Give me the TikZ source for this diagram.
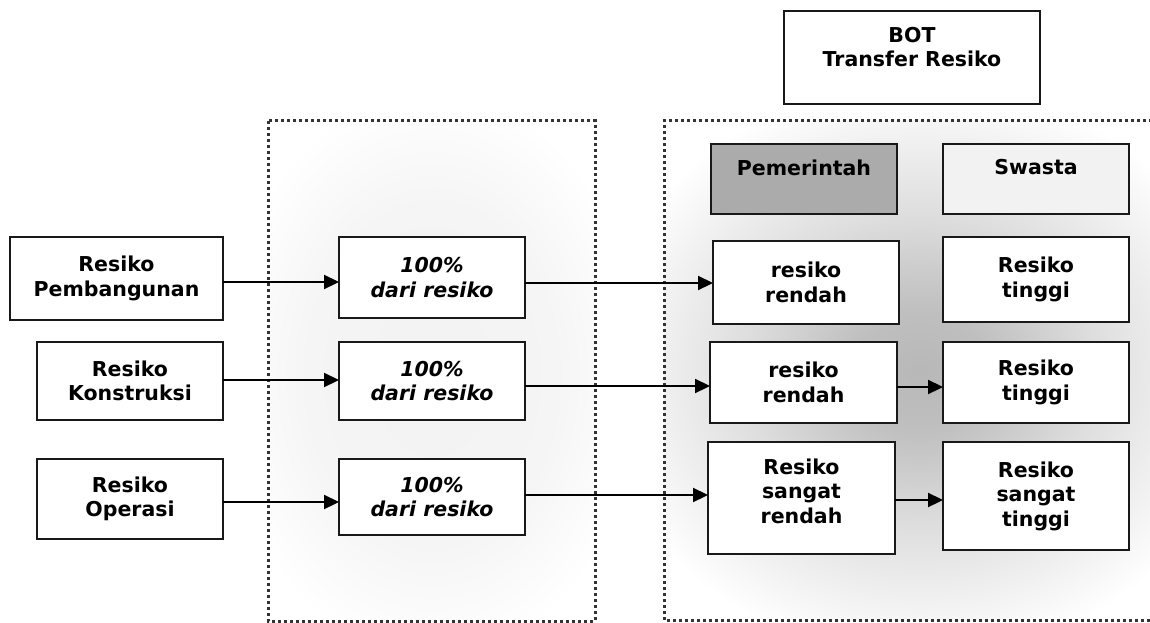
\documentclass[tikz,border=0pt]{standalone}
\usepackage{fontspec}
\setmainfont{DejaVu Sans}
\usetikzlibrary{arrows.meta}
\pgfdeclareradialshading{glowR}{\pgfpointorigin}{color(0bp)=(black!28); color(5bp)=(black!25); color(13bp)=(black!13); color(24bp)=(white); color(50bp)=(white)}
\pgfdeclareradialshading{glowM}{\pgfpointorigin}{color(0bp)=(black!5); color(14bp)=(black!4); color(24bp)=(white); color(50bp)=(white)}
\begin{document}
\begin{tikzpicture}[x=1pt,y=-1pt,
  box/.style={draw=black!90, line width=2pt, fill=white, inner sep=0pt, outer sep=0pt, align=center,
    font=\fontsize{20.5}{24.5}\selectfont\bfseries},
  ibox/.style={box, font=\fontsize{20.5}{24.5}\selectfont\bfseries\itshape},
  lbl/.style={inner sep=0pt, align=center, font=\fontsize{20.5}{24.5}\selectfont\bfseries},
  arr/.style={line width=2.2pt, -{Triangle[length=15pt,width=14pt]}},
  dotbox/.style={draw=black!80, line width=3pt, dash pattern=on 3pt off 3pt}]
\useasboundingbox (0,0) rectangle (1150,623);
% soft glows
\begin{scope}
  \clip (664,121) rectangle (1150,620);
  \shade[shading=glowR] (920,370) ellipse (340 and 300);
\end{scope}
\begin{scope}
  \clip (268,121) rectangle (595,621);
  \shade[shading=glowM] (432,375) ellipse (220 and 300);
\end{scope}
% dotted frames
\draw[dotbox] (268,121) rectangle (595,621);
\draw[dotbox] (1152,121) -- (664,121) -- (664,620) -- (1152,620);
% left column
\node[box, minimum width=213pt, minimum height=83pt] (L1) at (116.5,278.5) {Resiko\\Pembangunan};
\node[box, minimum width=186pt, minimum height=78pt] (L2) at (130,381) {Resiko\\Konstruksi};
\node[box, minimum width=186pt, minimum height=80pt] (L3) at (130,499) {Resiko\\Operasi};
% middle column
\node[ibox, minimum width=186pt, minimum height=81pt] (M1) at (432,277.5) {100\%\\dari resiko};
\node[ibox, minimum width=186pt, minimum height=78pt] (M2) at (432,381) {100\%\\dari resiko};
\node[ibox, minimum width=186pt, minimum height=76pt] (M3) at (432,497) {100\%\\dari resiko};
% header boxes
\node[box, minimum width=256pt, minimum height=93pt, label={[lbl, yshift=10.5pt]center:BOT\\Transfer Resiko}] (BOT) at (912,57.5) {};
\node[box, fill=black!33, minimum width=186pt, minimum height=70pt, label={[lbl, yshift=11.5pt]center:Pemerintah}] (P) at (804,179) {};
\node[box, fill=black!5, minimum width=186pt, minimum height=70pt, label={[lbl, yshift=11.5pt]center:Swasta}] (S) at (1036,179) {};
% right columns
\node[box, minimum width=186pt, minimum height=83pt] (R1) at (806,282.5) {resiko\\rendah};
\node[box, minimum width=187pt, minimum height=81pt] (R2) at (803.5,382.5) {resiko\\rendah};
\node[box, minimum width=187pt, minimum height=112pt, label={[lbl, yshift=7pt]center:Resiko\\sangat\\rendah}] (R3) at (801.5,498) {};
\node[box, minimum width=186pt, minimum height=85pt] (T1) at (1036,279.5) {Resiko\\tinggi};
\node[box, minimum width=186pt, minimum height=81pt] (T2) at (1036,382.5) {Resiko\\tinggi};
\node[box, minimum width=186pt, minimum height=108pt] (T3) at (1036,496) {Resiko\\sangat\\tinggi};
% connectors
\draw[arr] (L1.east |- 0,282) -- (M1.west |- 0,282);
\draw[arr] (L2.east |- 0,380) -- (M2.west |- 0,380);
\draw[arr] (L3.east |- 0,502) -- (M3.west |- 0,502);
\draw[arr] (M1.east |- 0,283) -- (R1.west |- 0,283);
\draw[arr] (M2.east |- 0,386) -- (R2.west |- 0,386);
\draw[arr] (M3.east |- 0,495) -- (R3.west |- 0,495);
\draw[arr] (R2.east |- 0,387) -- (T2.west |- 0,387);
\draw[arr] (R3.east |- 0,500) -- (T3.west |- 0,500);
\end{tikzpicture}
\end{document}
